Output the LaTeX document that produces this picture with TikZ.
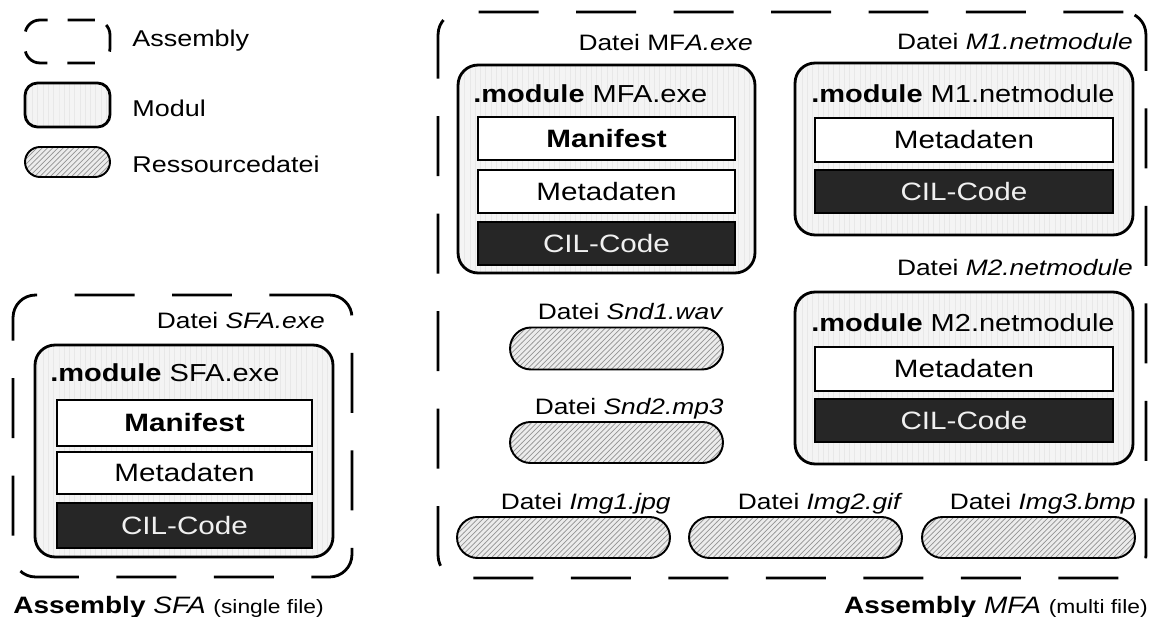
\documentclass[tikz,border=0pt]{standalone}
\usepackage{fontspec}
\setmainfont[FakeStretch=1.18]{Liberation Sans}
\usetikzlibrary{patterns,shapes.misc,calc}

\tikzset{
  assembly/.style={draw,line width=1.6pt,rounded corners=0.45cm,dash pattern=on 1.2cm off 0.75cm,inner sep=0pt},
  modul/.style={draw,line width=1.6pt,rounded corners=0.4cm,inner sep=0pt,preaction={fill=gray!9},pattern=vertical lines,pattern color=gray!18},
  teil/.style={draw,line width=1.1pt,fill=white,inner sep=0pt,minimum height=0.86cm,font=\fontsize{14.3}{16}\selectfont},
  cil/.style={teil,fill=black!85,text=gray!12},
  ressource/.style={rounded rectangle,draw,line width=1.1pt,inner sep=0pt,minimum width=4.26cm,minimum height=0.84cm,preaction={fill=gray!15},pattern=north east lines,pattern color=gray!85},
  datei/.style={anchor=base east,inner sep=0pt,font=\fontsize{12.7}{14}\selectfont},
  modtitel/.style={anchor=base west,inner sep=0pt,font=\fontsize{14}{16}\selectfont},
  legende/.style={anchor=base west,inner sep=0pt,font=\fontsize{13}{15}\selectfont},
  titel/.style={inner sep=0pt,font=\fontsize{13.5}{16}\selectfont},
}

\begin{document}
\begin{tikzpicture}[x=0.02cm,y=-0.02cm]
\useasboundingbox (0,0) rectangle (1151,617);
% Legende
\node[assembly,dash pattern=on 0.55cm off 0.4cm,rounded corners=0.3cm,minimum width=1.7cm,minimum height=0.86cm] (legAsm) at (67.5,41.5) {};
\node[modul,rounded corners=0.25cm,minimum width=1.7cm,minimum height=0.88cm] (legMod) at (67.5,105) {};
\node[ressource,minimum width=1.7cm,minimum height=0.6cm] (legRes) at (67.5,162) {};
\node[legende] (legAsmTxt) at (132,47) {Assembly};
\node[legende] (legModTxt) at (132,117) {Modul};
\node[legende] (legResTxt) at (132,173) {Ressourcedatei};

% Assembly SFA (single file)
\node[assembly,minimum width=6.78cm,minimum height=5.64cm] (asmSFA) at (182.5,436) {};
\node[datei] (datSFA) at (325,329) {Datei \textit{SFA.exe}};
\node[modul,minimum width=5.96cm,minimum height=4.24cm] (modSFA) at (184,451) {};
\node[modtitel] (titSFA) at (50,382) {\textbf{.module} SFA.exe};
\node[teil,minimum width=5.1cm,minimum height=0.92cm,font=\fontsize{14.3}{16}\bfseries] (manSFA) at (184.5,423) {Manifest};
\node[teil,minimum width=5.1cm,minimum height=0.84cm] (metSFA) at (184.5,473) {Metadaten};
\node[cil,minimum width=5.1cm,minimum height=0.9cm] (cilSFA) at (184.5,525.5) {CIL-Code};
\node[titel,anchor=base west] (capSFA) at (13,613) {\textbf{Assembly} \textit{SFA} {\fontsize{11}{13}\selectfont(single file)}};

% Assembly MFA (multi file)
\node[assembly,minimum width=14.16cm,minimum height=11.32cm] (asmMFA) at (792,295) {};
\node[datei] (datMFA) at (753,51) {Datei MF\textit{A.exe}};
\node[modul,minimum width=5.94cm,minimum height=4.16cm] (modMFA) at (606.5,169) {};
\node[modtitel] (titMFA) at (473,103) {\textbf{.module} MFA.exe};
\node[teil,minimum width=5.14cm,font=\fontsize{14.3}{16}\bfseries] (manMFA) at (606.5,138.5) {Manifest};
\node[teil,minimum width=5.14cm] (metMFA) at (606.5,191.5) {Metadaten};
\node[cil,minimum width=5.14cm] (cilMFA) at (606.5,243.5) {CIL-Code};

\node[datei] (datM1) at (1133,50) {Datei \textit{M1.netmodule}};
\node[modul,minimum width=6.76cm,minimum height=3.44cm] (modM1) at (964,149) {};
\node[modtitel] (titM1) at (811,103) {\textbf{.module} M1.netmodule};
\node[teil,minimum width=5.96cm,minimum height=0.88cm] (metM1) at (964,140) {Metadaten};
\node[cil,minimum width=5.96cm] (cilM1) at (964,191.5) {CIL-Code};

\node[datei] (datM2) at (1133,276) {Datei \textit{M2.netmodule}};
\node[modul,minimum width=6.76cm,minimum height=3.44cm] (modM2) at (964,378) {};
\node[modtitel] (titM2) at (811,332) {\textbf{.module} M2.netmodule};
\node[teil,minimum width=5.96cm,minimum height=0.88cm] (metM2) at (964,369) {Metadaten};
\node[cil,minimum width=5.96cm] (cilM2) at (964,420.5) {CIL-Code};

% Ressourcedateien
\node[ressource] (resSnd1) at (616.5,348.5) {};
\node[ressource,minimum height=0.82cm] (resSnd2) at (616.5,442.5) {};
\node[ressource,minimum height=0.82cm] (resImg1) at (563.5,537.5) {};
\node[ressource,minimum height=0.82cm] (resImg2) at (795.5,537.5) {};
\node[ressource,minimum height=0.82cm] (resImg3) at (1028.5,537.5) {};
\node[datei] (datSnd1) at ($(resSnd1.east |- resSnd1.north)+(0,-7)$) {Datei \textit{Snd1.wav}};
\node[datei] (datSnd2) at ($(resSnd2.east |- resSnd2.north)+(0,-7)$) {Datei \textit{Snd2.mp3}};
\node[datei] (datImg1) at ($(resImg1.east |- resImg1.north)+(0,-7)$) {Datei \textit{Img1.jpg}};
\node[datei] (datImg2) at ($(resImg2.east |- resImg2.north)+(0,-7)$) {Datei \textit{Img2.gif}};
\node[datei] (datImg3) at ($(resImg3.east |- resImg3.north)+(0,-7)$) {Datei \textit{Img3.bmp}};

\node[titel,anchor=base east] (capMFA) at (1148,613) {\textbf{Assembly} \textit{MFA} {\fontsize{11}{13}\selectfont(multi file)}};
\end{tikzpicture}
\end{document}
